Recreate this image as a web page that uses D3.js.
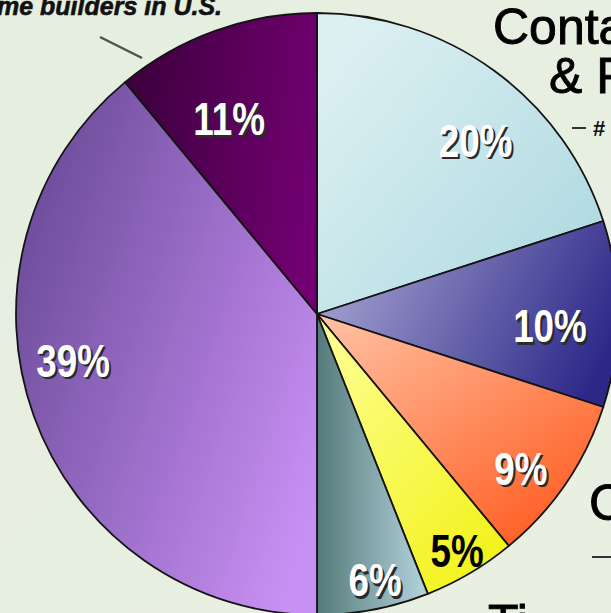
<!DOCTYPE html>
<html>
<head>
<meta charset="utf-8">
<script src="https://cdn.jsdelivr.net/npm/d3@7/dist/d3.min.js"></script>
<style>
  html, body { margin: 0; padding: 0; background: #e8f0e0; overflow: hidden; }
  svg { display: block; }
</style>
</head>
<body>
<svg id="chart" width="611" height="613"></svg>
<script>
// Share of each group, clockwise from 12 o'clock
const categories = ["Group 1", "Group 2", "Group 3", "Group 4", "Group 5", "Group 6", "Group 7"];
const shares = [20, 10, 9, 5, 6, 39, 11];
const shareLabels = ["20%", "10%", "9%", "5%", "6%", "39%", "11%"];

// Fill gradients per slice: start colour, end colour, direction
const sliceStyles = {
  "Group 1": { from: "#dcf0f2", to: "#acd8e0", x1: 0.1, y1: 0.1, x2: 1, y2: 0.9, text: "#ffffff" },
  "Group 2": { from: "#a6a4d2", to: "#2c2888", x1: 0, y1: 0.3, x2: 1, y2: 0.6, text: "#ffffff" },
  "Group 3": { from: "#ffc4a6", to: "#ff5c20", x1: 0, y1: 0, x2: 0.8, y2: 1, text: "#ffffff" },
  "Group 4": { from: "#ffff9a", to: "#f2f21a", x1: 0, y1: 0, x2: 0.8, y2: 1, text: "#000000" },
  "Group 5": { from: "#557a7a", to: "#b4d4dc", x1: 0, y1: 0.5, x2: 1, y2: 0.5, text: "#ffffff" },
  "Group 6": { from: "#6a4a98", to: "#c990f4", x1: 0, y1: 0.2, x2: 1, y2: 0.8, text: "#ffffff" },
  "Group 7": { from: "#3c003c", to: "#720072", x1: 0, y1: 0.3, x2: 1, y2: 0.5, text: "#ffffff" }
};

// Label placement: fraction of radius and angular nudge in degrees
const labelPlacement = {
  "Group 1": [0.78, 6.5],
  "Group 2": [0.775, 3],
  "Group 3": [0.85, 3],
  "Group 4": [0.915, 0],
  "Group 5": [0.905, -1.5],
  "Group 6": [0.825, 9],
  "Group 7": [0.71, -4.5]
};

const svg = d3.select("#chart");
const W = 611, H = 613;
const cx = 317, cy = 314, R = 301;

const defs = svg.append("defs");

// Background wash
const bg = defs.append("linearGradient").attr("id", "bgGrad")
  .attr("x1", 0).attr("y1", 0).attr("x2", 1).attr("y2", 1);
bg.append("stop").attr("offset", 0).attr("stop-color", "#e6eedf");
bg.append("stop").attr("offset", 1).attr("stop-color", "#e9f0e2");
svg.append("rect").attr("width", W).attr("height", H).attr("fill", "url(#bgGrad)");

const data = categories.map((c, i) => ({ category: c, value: shares[i], label: shareLabels[i] }));

const pie = d3.pie().value(d => d.value).sort(null);
const arcs = pie(data);
const arc = d3.arc().innerRadius(0).outerRadius(R);

// Slice gradients, each spanning its own slice bounds
arcs.forEach((a, i) => {
  const st = sliceStyles[a.data.category];
  const g = defs.append("linearGradient").attr("id", "slice" + i)
    .attr("x1", st.x1).attr("y1", st.y1).attr("x2", st.x2).attr("y2", st.y2);
  g.append("stop").attr("offset", 0).attr("stop-color", st.from);
  g.append("stop").attr("offset", 1).attr("stop-color", st.to);
});

const pieG = svg.append("g").attr("transform", `translate(${cx},${cy})`);

pieG.selectAll("path.slice")
  .data(arcs)
  .join("path")
  .attr("class", "slice")
  .attr("d", arc)
  .attr("fill", (d, i) => `url(#slice${i})`)
  .attr("stroke", "#141414")
  .attr("stroke-width", 1.8)
  .attr("stroke-linejoin", "round");

// Percentage labels: condensed bold with a dark drop shadow
const labelG = pieG.append("g");
arcs.forEach((a) => {
  const [frac, nudge] = labelPlacement[a.data.category];
  const mid = (a.startAngle + a.endAngle) / 2 + nudge * Math.PI / 180;
  const r = R * frac;
  const x = Math.sin(mid) * r;
  const y = -Math.cos(mid) * r;
  const st = sliceStyles[a.data.category];
  const g = labelG.append("g").attr("transform", `translate(${x},${y}) scale(0.8,1)`);
  const base = {
    "text-anchor": "middle",
    "dominant-baseline": "central",
    "font-family": "'Liberation Sans', Arial, sans-serif",
    "font-weight": "bold",
    "font-size": "46px"
  };
  if (st.text === "#ffffff") {
    const sh = g.append("text").text(a.data.label).attr("x", 2.5).attr("y", 2.5).attr("fill", "#2a2a2a");
    Object.entries(base).forEach(([k, v]) => sh.attr(k, v));
  }
  const t = g.append("text").text(a.data.label).attr("fill", st.text);
  Object.entries(base).forEach(([k, v]) => t.attr(k, v));
});

// Surrounding annotations
svg.append("text")
  .attr("x", -3).attr("y", 15)
  .attr("font-family", "'Liberation Sans', Arial, sans-serif")
  .attr("font-weight", "bold").attr("font-style", "italic")
  .attr("font-size", "25px").attr("fill", "#111")
  .attr("stroke", "#111").attr("stroke-width", 0.6)
  .text("me builders in U.S.");

svg.append("line")
  .attr("x1", 100).attr("y1", 37).attr("x2", 142).attr("y2", 58)
  .attr("stroke", "#4c544c").attr("stroke-width", 2.5);

const bigFont = {
  "font-family": "'Liberation Sans', Arial, sans-serif", "font-size": "50px",
  "fill": "#000", "stroke": "#000", "stroke-width": 0.9
};
function bigText(txt, x, y) {
  const t = svg.append("text").attr("x", x).attr("y", y).text(txt);
  Object.entries(bigFont).forEach(([k, v]) => t.attr(k, v));
  return t;
}
bigText("Conta", 493, 44);
bigText("& F", 549, 93);
bigText("C", 589, 520);
bigText("Ti", 488, 640);

svg.append("line")
  .attr("x1", 572).attr("y1", 128).attr("x2", 586).attr("y2", 128)
  .attr("stroke", "#333").attr("stroke-width", 2);
svg.append("text")
  .attr("x", 593).attr("y", 136)
  .attr("font-family", "'Liberation Sans', Arial, sans-serif")
  .attr("font-weight", "bold").attr("font-size", "22px").attr("fill", "#111")
  .text("#");

svg.append("line")
  .attr("x1", 592).attr("y1", 557).attr("x2", 611).attr("y2", 557)
  .attr("stroke", "#333").attr("stroke-width", 2);
</script>
</body>
</html>
